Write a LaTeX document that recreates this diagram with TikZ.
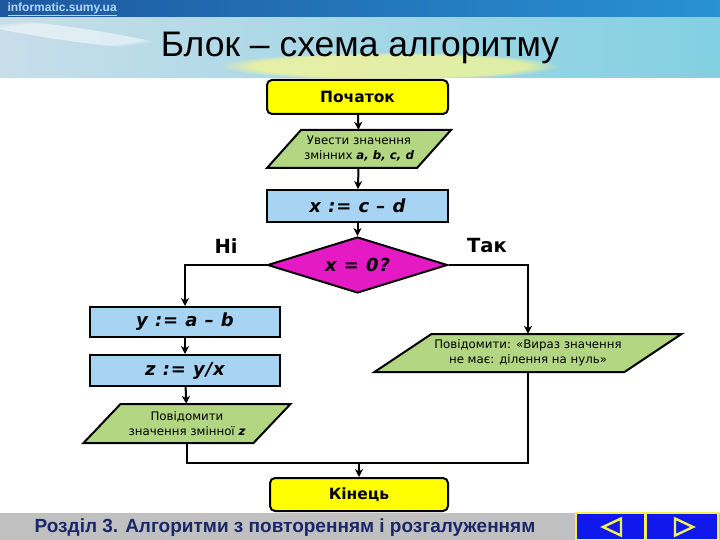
\documentclass[tikz,border=0pt]{standalone}
\usepackage{fontspec}
\setmainfont{DejaVu Sans}
\newfontfamily\arialf{Liberation Sans}
\newfontfamily\boxfont[LetterSpace=5]{DejaVu Sans}
\usetikzlibrary{shapes.geometric,arrows.meta,fadings}
\definecolor{ybox}{RGB}{255,255,0}
\definecolor{gbox}{RGB}{178,214,130}
\definecolor{bbox}{RGB}{166,212,242}
\definecolor{mbox}{RGB}{228,26,196}
\definecolor{topdark}{RGB}{30,88,158}
\definecolor{toplight}{RGB}{40,146,212}
\definecolor{bandL}{RGB}{200,222,234}
\definecolor{bandR}{RGB}{130,208,226}
\definecolor{footgray}{RGB}{192,192,192}
\definecolor{foottext}{RGB}{25,40,105}
\definecolor{navblue}{RGB}{16,24,236}
\definecolor{navyel}{RGB}{240,240,80}
\definecolor{sitecol}{RGB}{175,215,255}
\newcommand\parabox[7]{%
  \filldraw[pbox] (#2-#4/2+#6/2,#3-#5/2) -- ++(#4,0) -- ++(-#6,#5) -- ++(-#4,0) -- cycle;
  \node[ptext, minimum width=#4pt, minimum height=#5pt] (#1) at (#2,#3) {#7};}
\begin{document}
\begin{tikzpicture}[x=1pt,y=-1pt,
  boxline/.style={draw=black, line width=2pt},
  termbox/.style={boxline, fill=ybox, rounded corners=5pt, inner sep=0pt,
    font=\fontsize{15.5}{18}\selectfont\bfseries},
  procbox/.style={boxline, fill=bbox, inner sep=0pt,
    font=\boxfont\fontsize{18}{21}\selectfont\bfseries\itshape},
  pbox/.style={boxline, fill=gbox},
  ptext/.style={inner sep=0pt, align=center, font=\fontsize{11.8}{15}\selectfont},
  condbox/.style={boxline, fill=mbox, shape=diamond, aspect=3.2, inner sep=0pt,
    font=\boxfont\fontsize{18}{21}\selectfont\bfseries\itshape},
  conn/.style={line width=2pt, draw=black},
  arr/.style={conn, -{Stealth[length=8pt,width=8pt,inset=2.5pt]}},
  lbl/.style={font=\fontsize{19.5}{22}\selectfont\bfseries}]
\useasboundingbox (0,0) rectangle (720,540);
% background
\fill[white] (0,0) rectangle (720,540);
\shade[left color=topdark, right color=toplight] (0,0) rectangle (720,18);
\shade[left color=bandL, right color=bandR] (0,18) rectangle (720,78);
\fill[yellow!45!white, opacity=0.7, path fading=circle with fuzzy edge 20 percent] (390,66) ellipse (170 and 14);
\fill[white, opacity=0.5, path fading=circle with fuzzy edge 20 percent, rotate around={-8:(70,34)}] (70,34) ellipse (100 and 7);
\node[anchor=west, text=sitecol, font=\arialf\fontsize{12}{14}\selectfont\bfseries] (site) at (4,9.5) {\underline{informatic.sumy.ua}};
\node[font=\arialf\fontsize{35.5}{40}\selectfont] (title) at (360,48) {Блок – схема алгоритму};
% footer
\fill[footgray] (0,513) rectangle (720,540);
\node[text=foottext, font=\arialf\fontsize{19}{22}\selectfont\bfseries] (foot) at (285,527.5) {Розділ 3. Алгоритми з повторенням і розгалуженням};
\filldraw[fill=navblue, draw=navyel, line width=1.2pt] (576,513) rectangle (645,540);
\filldraw[fill=navblue, draw=navyel, line width=1.2pt] (646,513) rectangle (718,540);
\filldraw[fill=navblue, draw=navyel, line width=2.4pt, line join=miter] (603,527) -- (621,518.5) -- (621,535.5) -- cycle;
\filldraw[fill=navblue, draw=navyel, line width=2.4pt, line join=miter] (693,527) -- (675,518.5) -- (675,535.5) -- cycle;
% flowchart
\node[termbox, minimum width=181pt, minimum height=34pt] (start) at (357.5,97) {Початок};
\parabox{in}{359}{149}{150}{38}{34}{Увести значення\\змінних {\bfseries\itshape a, b, c, d}}
\node[procbox, minimum width=181pt, minimum height=32pt] (calcx) at (357.5,206) {x := c – d};
\node[condbox, minimum width=180pt, minimum height=56pt] (cond) at (357.5,265) {x = 0?};
\node[lbl] (no) at (226,246) {Ні};
\node[lbl] (yes) at (487,246) {Так};
\node[procbox, minimum width=190pt, minimum height=30pt] (yb) at (185,322) {y := a – b};
\node[procbox, minimum width=190pt, minimum height=31pt] (zb) at (185,370.5) {z := y/x};
\parabox{out}{187}{423.5}{170}{39}{37}{Повідомити\\значення змінної {\bfseries\itshape z}}
\parabox{err}{528}{353}{250}{38}{57}{Повідомити: «Вираз значення\\не має: ділення на нуль»}
\node[termbox, minimum width=178pt, minimum height=33pt] (stop) at (359,494.5) {Кінець};
% connectors
\draw[arr] (start) -- (in);
\draw[arr] (in) -- (calcx);
\draw[arr] (calcx) -- (cond);
\draw[arr] (cond.west) -| (yb.north);
\draw[arr] (cond.east) -| (err.north);
\draw[arr] (yb) -- (zb);
\draw[arr] (zb) -- (out);
\coordinate (mr) at (err.south |- 0,463);
\coordinate (mc) at (stop.north |- 0,463);
\draw[conn] (out.south) |- (mr) -- (err.south);
\draw[arr] (mc) -- (stop.north);
\end{tikzpicture}
\end{document}
